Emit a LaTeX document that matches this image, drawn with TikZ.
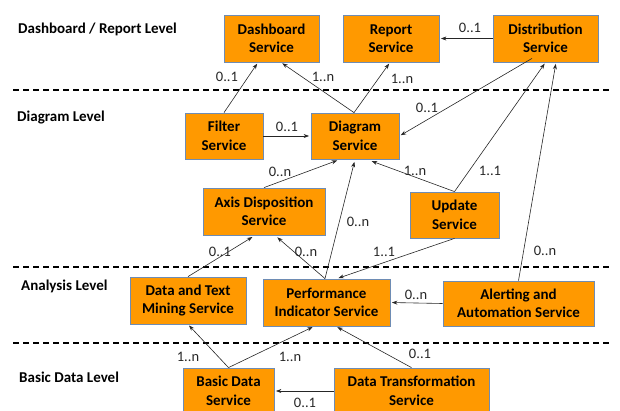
\documentclass[tikz,border=0pt]{standalone}
\usepackage{fontspec}
\setmainfont{Carlito}
\usetikzlibrary{arrows.meta}
\definecolor{boxfill}{RGB}{255,153,0}
\definecolor{boxline}{RGB}{110,140,180}
\begin{document}
\begin{tikzpicture}[x=1pt,y=-1pt,
  svc/.style={draw=boxline, line width=0.8pt, fill=boxfill, align=center, inner sep=0pt,
    font=\fontsize{15}{18.5}\selectfont\bfseries},
  lvl/.style={anchor=west, inner sep=0pt, font=\fontsize{15}{17}\selectfont\bfseries},
  mult/.style={inner sep=0pt, text=black!85, font=\fontsize{14.5}{17}\selectfont},
  conn/.style={draw=black!85, line width=0.6pt, -{Stealth[length=5.5pt,width=4pt]}, shorten >=1.5pt},
  sep/.style={line width=1.2pt, dash pattern=on 6pt off 4pt}]
\useasboundingbox (0,0) rectangle (620,410);

% level separators
\coordinate (s1a) at (13,90);  \coordinate (s1b) at (612,90);
\coordinate (s2a) at (13,267); \coordinate (s2b) at (612,267);
\coordinate (s3a) at (13,343); \coordinate (s3b) at (612,343);
\draw[sep] (s1a) -- (s1b);
\draw[sep] (s2a) -- (s2b);
\draw[sep] (s3a) -- (s3b);

% level labels
\node[lvl] (l1) at (18,29) {Dashboard / Report Level};
\node[lvl] (l2) at (17,118) {Diagram Level};
\node[lvl] (l3) at (21,286) {Analysis Level};
\node[lvl] (l4) at (19,377) {Basic Data Level};

% services
\node[svc, minimum width=95, minimum height=47] (dash) at (271.5,38.5) {Dashboard\\Service};
\node[svc, minimum width=96, minimum height=47] (report) at (391,38.5) {Report\\Service};
\node[svc, minimum width=105, minimum height=47] (distr) at (545.5,38.5) {Distribution\\Service};
\node[svc, minimum width=78, minimum height=46] (filter) at (224,136) {Filter\\Service};
\node[svc, minimum width=88, minimum height=46] (diagram) at (355,136) {Diagram\\Service};
\node[svc, minimum width=122, minimum height=47] (axis) at (264,211.5) {Axis Disposition\\Service};
\node[svc, minimum width=89, minimum height=46] (update) at (454.5,215) {Update\\Service};
\node[svc, minimum width=116, minimum height=47] (mining) at (188,300.5) {Data and Text\\Mining Service};
\node[svc, minimum width=127, minimum height=47] (perf) at (326.5,302.5) {Performance\\Indicator Service};
\node[svc, minimum width=151, minimum height=45] (alert) at (518.5,303.5) {Alerting and\\Automation Service};
\node[svc, minimum width=91, minimum height=46] (basic) at (228.5,391) {Basic Data\\Service};
\node[svc, minimum width=155, minimum height=46] (trans) at (411.5,391) {Data Transformation\\Service};

% connectors
\draw[conn] (filter.north) -- ([xshift=-13.5]dash.south);
\draw[conn] ([xshift=-1]diagram.north) -- ([xshift=9.5]dash.south);
\draw[conn] ([xshift=-1]diagram.north) -- ([xshift=-1]report.south);
\draw[conn] (distr.west) -- (report.east);
\draw[conn] ([xshift=-13.5,yshift=4]distr.south) -- (diagram.east);
\draw[conn] (update.north) -- (distr.south);
\draw[conn] (alert.north) -- ([xshift=10.5]distr.south);
\draw[conn] (filter.east) -- (diagram.west);
\draw[conn, shorten >=3pt] (axis.north) -- ([xshift=-15]diagram.south);
\draw[conn, shorten >=2.5pt] ([xshift=-1.5]perf.north) -- (diagram.south);
\draw[conn, shorten >=5pt] (update.north) -- ([xshift=12]diagram.south);
\draw[conn] (update.south) -- ([xshift=10.5]perf.north);
\draw[conn, shorten >=3pt] ([xshift=-1.5]perf.north) -- ([xshift=11]axis.south);
\draw[conn, shorten >=3pt] (mining.north) -- ([xshift=-9]axis.south);
\draw[conn] (alert.west) -- (perf.east);
\draw[conn] (basic.north) -- (mining.south);
\draw[conn] (basic.north) -- ([xshift=-12.5]perf.south);
\draw[conn] (trans.north) -- ([xshift=9.5]perf.south);
\draw[conn] (trans.west) -- (basic.east);

% multiplicities
\node[mult] (m1) at (227,77) {0..1};
\node[mult] (m2) at (323,77) {1..n};
\node[mult] (m3) at (402,79) {1..n};
\node[mult] (m4) at (470,28) {0..1};
\node[mult] (m5) at (427,108) {0..1};
\node[mult] (m6) at (490,171) {1..1};
\node[mult] (m7) at (545,251) {0..n};
\node[mult] (m8) at (287,127) {0..1};
\node[mult] (m9) at (280,172) {0..n};
\node[mult] (m10) at (358,222) {0..n};
\node[mult] (m11) at (415,171) {1..n};
\node[mult] (m12) at (384,252) {1..1};
\node[mult] (m13) at (306,252) {0..n};
\node[mult] (m14) at (220,252) {0..1};
\node[mult] (m15) at (416,295) {0..n};
\node[mult] (m16) at (188,357) {1..n};
\node[mult] (m17) at (290,357) {1..n};
\node[mult] (m18) at (420,354) {0..1};
\node[mult] (m19) at (305,403) {0..1};
\end{tikzpicture}
\end{document}
